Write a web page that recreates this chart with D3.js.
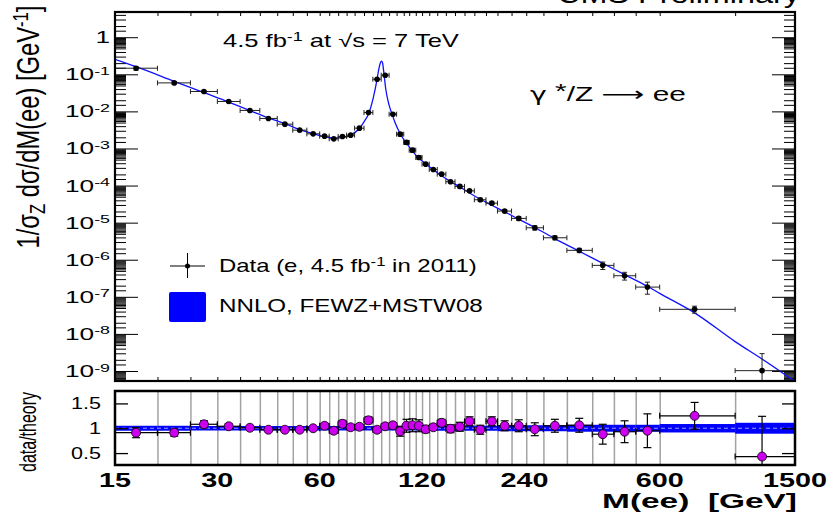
<!DOCTYPE html>
<html>
<head>
<meta charset="utf-8">
<script src="https://cdn.jsdelivr.net/npm/d3@7"></script>
<style>
  body { margin: 0; background: #fff; }
  svg { display: block; font-family: "Liberation Sans", Arial, Helvetica, sans-serif; }
</style>
</head>
<body>
<svg id="chart" width="829" height="516"></svg>
<script>
// Mass bin edges [GeV]
const binEdges = [15,20,25,30,35,40,45,50,55,60,64,68,72,76,81,86,91,96,101,106,110,115,120,126,133,141,150,160,171,185,200,220,243,273,320,380,440,510,600,1000,1500];
// Mass at which each measured point is placed [GeV]
const pointMass = [17.3,22.4,27.4,32.4,37.4,42.4,47.4,52.4,57.4,62,66,70,74,78.5,83.5,88.5,93.5,98.5,103.5,108,112.5,117.5,123,129.5,137,145.5,155,165.5,178,192.5,210,231,257.5,295,348,408,473,552,760,1200];
// Normalised cross section, 1/sigma_Z dsigma/dM [GeV^-1]
const dataValues = [0.146,0.0587,0.0344,0.0185,0.0106,0.00645,0.00453,0.00312,0.00248,0.00215,0.00182,0.00211,0.00229,0.00353,0.0093,0.0738,0.0946,0.0084,0.00243,0.00146,0.00090,0.000573,0.000378,0.000272,0.000203,0.000127,0.0000948,0.0000720,0.0000415,0.0000335,0.0000205,0.0000130,0.00000727,0.00000391,0.00000179,7.05e-7,3.7e-7,1.83e-7,4.6e-8,1.02e-9];
// Data / theory per bin and its uncertainty
const ratioValues = [0.91,0.91,1.08,1.04,1.01,0.97,0.97,0.97,1.00,1.05,0.95,1.09,1.02,1.03,1.16,0.97,1.04,1.06,0.94,1.05,1.06,1.05,0.98,1.02,1.11,0.99,1.03,1.14,0.97,1.14,1.05,1.05,0.98,1.05,1.06,0.88,0.93,0.95,1.25,0.43];
const ratioErrors = [0.10,0.07,0.07,0.05,0.03,0.03,0.03,0.03,0.03,0.04,0.05,0.07,0.04,0.04,0.07,0.02,0.03,0.05,0.10,0.13,0.13,0.12,0.07,0.06,0.07,0.08,0.09,0.09,0.09,0.09,0.10,0.12,0.13,0.13,0.14,0.20,0.22,0.34,0.27,0.81];
// Relative theory uncertainty per bin (NNLO band)
const theoryBand = [0.05,0.05,0.045,0.045,0.045,0.045,0.045,0.045,0.045,0.045,0.045,0.045,0.045,0.045,0.045,0.045,0.045,0.045,0.045,0.045,0.045,0.045,0.05,0.05,0.05,0.05,0.05,0.05,0.05,0.05,0.06,0.06,0.06,0.06,0.07,0.07,0.07,0.07,0.085,0.11];
// NNLO FEWZ+MSTW08 prediction
const theoryMass = [15,17.3,22.4,27.4,32.4,37.4,42.4,47.4,52.4,57.4,62,66,70,74,78.5,81,83.5,86.3,88.2,89.6,90.5,91.2,91.8,92.6,93.8,96,98,99.8,103.5,108,112.5,117.5,123,129.5,137,145.5,155,165.5,178,192.5,210,231,257.5,295,348,408,473,552,600,760,1000,1200,1500];
const theoryValues = [0.253,0.160,0.0645,0.0319,0.0178,0.0105,0.00665,0.00467,0.00322,0.00250,0.00208,0.00193,0.00196,0.00228,0.00345,0.0052,0.0085,0.0240,0.0625,0.143,0.205,0.228,0.205,0.116,0.0415,0.0147,0.0083,0.0052,0.0025,0.00139,0.00085,0.000546,0.000386,0.000267,0.000183,0.000128,0.000092,0.000063,0.0000428,0.0000294,0.0000195,0.0000124,0.0000074,0.00000372,0.00000169,8.0e-7,3.98e-7,1.93e-7,1.24e-7,3.7e-8,6.2e-9,2.1e-9,5.2e-10];
// Axis labels
const xTickLabels = [15,30,60,120,240,600,1500];
const yTickExponents = [0,-1,-2,-3,-4,-5,-6,-7,-8,-9];
const ratioTicks = [0.5,1,1.5];

const svg = d3.select("#chart");
const L = 115, R = 795;
const top1 = 12, bot1 = 381, top2 = 391, bot2 = 465;

const x = d3.scaleLog().domain([15, 1500]).range([L, R]);
const y = d3.scaleLog().domain([Math.pow(10, -9.27), Math.pow(10, 0.68)]).range([bot1, top1]);
const r = d3.scaleLinear().domain([0.26, 1.75]).range([bot2, top2]);

const defs = svg.append("defs");
defs.append("clipPath").attr("id", "clipUp").append("rect")
  .attr("x", L).attr("y", top1).attr("width", R - L).attr("height", bot1 - top1);
defs.append("clipPath").attr("id", "clipLo").append("rect")
  .attr("x", L).attr("y", top2).attr("width", R - L).attr("height", bot2 - top2);

// text helpers: stretch horizontally to a given width
function place(sel, px, py, anchor, width) {
  sel.attr("x", 0).attr("y", 0).attr("text-anchor", anchor);
  const len = sel.node().getComputedTextLength();
  const sx = width / len;
  sel.attr("transform", `translate(${px},${py}) scale(${sx},1)`);
  return sx;
}
function placeScaled(sel, px, py, anchor, sx) {
  sel.attr("x", 0).attr("y", 0).attr("text-anchor", anchor)
    .attr("transform", `translate(${px},${py}) scale(${sx},1)`);
}
function placeRot(sel, cx, cy, length, sx) {
  sel.attr("x", 0).attr("y", 0).attr("text-anchor", "middle");
  const f = parseFloat(sel.attr("font-size"));
  const len = sel.node().getComputedTextLength();
  sel.attr("font-size", f * length / len);
  sel.attr("transform", `translate(${cx},${cy}) scale(${sx},1) rotate(-90)`);
}

// ---------- upper panel ----------
const up = svg.append("g");

// minor/major ticks for the log y axis
const majors = [], minors = [];
for (let n = -10; n <= 1; n++) {
  majors.push(Math.pow(10, n));
  [1.5, 2, 3, 4, 5, 5.5, 6, 6.5, 7, 7.5, 8, 8.5, 9, 9.5].forEach(k => minors.push(k * Math.pow(10, n)));
}
const inY = v => v >= y.domain()[0] && v <= y.domain()[1];
const majorV = majors.filter(inY), minorV = minors.filter(inY);

function styleAxis(g, w) {
  g.select(".domain").remove();
  g.selectAll("line").attr("stroke", "#000").attr("stroke-width", w || 1);
  g.selectAll("text").remove();
}
up.append("g").attr("transform", `translate(${L},0)`)
  .call(d3.axisLeft(y).tickValues(majorV).tickSize(-23)).call(g => styleAxis(g));
up.append("g").attr("transform", `translate(${L},0)`)
  .call(d3.axisLeft(y).tickValues(minorV).tickSize(-11)).call(g => styleAxis(g));
up.append("g").attr("transform", `translate(${R},0)`)
  .call(d3.axisRight(y).tickValues(majorV).tickSize(-23)).call(g => styleAxis(g));
up.append("g").attr("transform", `translate(${R},0)`)
  .call(d3.axisRight(y).tickValues(minorV).tickSize(-11)).call(g => styleAxis(g));

const innerEdges = binEdges.slice(1, -1);
up.append("g").attr("transform", `translate(0,${top1})`)
  .call(d3.axisTop(x).tickValues(innerEdges).tickSize(-4)).call(g => styleAxis(g));
up.append("g").attr("transform", `translate(0,${bot1})`)
  .call(d3.axisBottom(x).tickValues(innerEdges).tickSize(-4)).call(g => styleAxis(g));

// theory curve
const theoryPts = theoryMass.map((m, i) => [m, theoryValues[i]]);
up.append("path")
  .attr("clip-path", "url(#clipUp)")
  .attr("d", d3.line().x(d => x(d[0])).y(d => y(d[1])).curve(d3.curveMonotoneX)(theoryPts))
  .attr("fill", "none").attr("stroke", "#1010ff").attr("stroke-width", 1.3);

// data points with error bars
const dataG = up.append("g").attr("clip-path", "url(#clipUp)");
dataValues.forEach((d, i) => {
  const x0 = x(binEdges[i]), x1 = x(binEdges[i + 1]);
  const cx = x(pointMass[i]), cy = y(d);
  const rel = ratioErrors[i] / ratioValues[i];
  const yHi = y(d * (1 + rel));
  const yLo = d * (1 - rel) > 0 ? y(d * (1 - rel)) : bot1 + 20;
  const g = dataG.append("g").attr("stroke", "#222").attr("stroke-width", 1);
  g.append("line").attr("x1", x0).attr("x2", x1).attr("y1", cy).attr("y2", cy);
  g.append("line").attr("x1", x0).attr("x2", x0).attr("y1", cy - 2.5).attr("y2", cy + 2.5);
  g.append("line").attr("x1", x1).attr("x2", x1).attr("y1", cy - 2.5).attr("y2", cy + 2.5);
  g.append("line").attr("x1", cx).attr("x2", cx).attr("y1", yHi).attr("y2", yLo);
  g.append("line").attr("x1", cx - 2.5).attr("x2", cx + 2.5).attr("y1", yHi).attr("y2", yHi);
  g.append("line").attr("x1", cx - 2.5).attr("x2", cx + 2.5).attr("y1", yLo).attr("y2", yLo);
  dataG.append("circle").attr("cx", cx).attr("cy", cy).attr("r", 2.8).attr("fill", "#000");
});

up.append("rect").attr("x", L).attr("y", top1).attr("width", R - L).attr("height", bot1 - top1)
  .attr("fill", "none").attr("stroke", "#000").attr("stroke-width", 2.2);

// y tick labels (10^n)
const yLab = up.append("g").attr("font-size", 16);
yTickExponents.forEach(e => {
  const t = yLab.append("text").attr("data-e", e);
  if (e === 0) {
    t.text("1");
  } else {
    t.append("tspan").text("10");
    t.append("tspan").attr("font-size", "0.68em").attr("dy", "-0.5em").text(String(e));
  }
});
let ySx;
{
  const ref = yLab.selectAll("text").filter(function () { return this.getAttribute("data-e") === "-1"; });
  ref.attr("x", 0).attr("y", 0);
  ySx = 45 / ref.node().getComputedTextLength();
}
yLab.selectAll("text").each(function () {
  const e = +this.getAttribute("data-e");
  placeScaled(d3.select(this), 110, y(Math.pow(10, e)) + 6, "end", ySx);
});

// y axis title
const yTitle = svg.append("text").attr("font-size", 22).attr("fill", "#000");
yTitle.append("tspan").text("1/σ");
yTitle.append("tspan").attr("font-size", "0.7em").attr("dy", "0.3em").text("Z");
yTitle.append("tspan").attr("dy", "-0.21em").text(" dσ/dM(ee) [GeV");
yTitle.append("tspan").attr("font-size", "0.7em").attr("dy", "-0.5em").text("-1");
yTitle.append("tspan").attr("dy", "0.35em").text("]");
placeRot(yTitle, 39, 127, 243, 1.3);

// annotations
const cms = svg.append("text").attr("font-size", 26).text("CMS Preliminary");
place(cms, 800, 3, "end", 243);

const lumi = svg.append("text").attr("font-size", 18);
lumi.append("tspan").text("4.5 fb");
lumi.append("tspan").attr("font-size", "0.7em").attr("dy", "-0.5em").text("-1");
lumi.append("tspan").attr("dy", "0.35em").text(" at √s = 7 TeV");
place(lumi, 223, 47, "start", 236);

const proc = svg.append("text").attr("font-size", 20);
proc.append("tspan").attr("font-family", "'DejaVu Sans', sans-serif").attr("font-size", "0.95em").text("γ");
proc.append("tspan").attr("dy", "-0.15em").text(" *");
proc.append("tspan").attr("dy", "0.15em").text("/Z ");
proc.append("tspan").attr("font-family", "'DejaVu Sans', sans-serif").text("⟶");
proc.append("tspan").text(" ee");
place(proc, 530, 101, "start", 156);

// legend
const leg = svg.append("g");
leg.append("line").attr("x1", 170).attr("x2", 205).attr("y1", 266).attr("y2", 266).attr("stroke", "#000");
leg.append("line").attr("x1", 187.5).attr("x2", 187.5).attr("y1", 253).attr("y2", 278).attr("stroke", "#000");
leg.append("circle").attr("cx", 187.5).attr("cy", 266).attr("r", 2.5).attr("fill", "#000");
leg.append("rect").attr("x", 169).attr("y", 292).attr("width", 37).attr("height", 30).attr("rx", 2).attr("fill", "#0000ff");
const l1 = leg.append("text").attr("font-size", 18);
l1.append("tspan").text("Data (e, 4.5 fb");
l1.append("tspan").attr("font-size", "0.7em").attr("dy", "-0.5em").text("-1");
l1.append("tspan").attr("dy", "0.35em").text(" in 2011)");
place(l1, 219, 272, "start", 258);
const l2 = leg.append("text").attr("font-size", 18).text("NNLO, FEWZ+MSTW08");
place(l2, 219, 312, "start", 264);

// ---------- ratio panel ----------
const lo = svg.append("g");

// vertical bin-edge grid
lo.append("g").attr("transform", `translate(0,${bot2})`)
  .call(d3.axisBottom(x).tickValues(innerEdges).tickSize(-(bot2 - top2)))
  .call(g => { styleAxis(g, 1.5); g.selectAll("line").attr("stroke", "#a3a3a3"); });

// theory band per bin
const bandG = lo.append("g").attr("clip-path", "url(#clipLo)");
theoryBand.forEach((e, i) => {
  bandG.append("rect")
    .attr("x", x(binEdges[i])).attr("width", x(binEdges[i + 1]) - x(binEdges[i]))
    .attr("y", r(1 + e)).attr("height", r(1 - e) - r(1 + e))
    .attr("fill", "#0000ff");
});
lo.append("line").attr("x1", L).attr("x2", R).attr("y1", r(1)).attr("y2", r(1))
  .attr("stroke", "#9a9aff").attr("stroke-width", 1).attr("stroke-dasharray", "4,3");

// ratio points
const ratG = lo.append("g").attr("clip-path", "url(#clipLo)");
ratioValues.forEach((v, i) => {
  const x0 = x(binEdges[i]), x1 = x(binEdges[i + 1]);
  const cx = x(pointMass[i]), cy = r(v);
  const e = ratioErrors[i];
  const yHi = r(v + e), yLo = r(v - e);
  const g = ratG.append("g").attr("stroke", "#000").attr("stroke-width", 1.2);
  g.append("line").attr("x1", x0).attr("x2", x1).attr("y1", cy).attr("y2", cy);
  g.append("line").attr("x1", x0).attr("x2", x0).attr("y1", cy - 3).attr("y2", cy + 3);
  g.append("line").attr("x1", x1).attr("x2", x1).attr("y1", cy - 3).attr("y2", cy + 3);
  g.append("line").attr("x1", cx).attr("x2", cx).attr("y1", yHi).attr("y2", yLo);
  g.append("line").attr("x1", cx - 4).attr("x2", cx + 4).attr("y1", yHi).attr("y2", yHi);
  g.append("line").attr("x1", cx - 4).attr("x2", cx + 4).attr("y1", yLo).attr("y2", yLo);
  ratG.append("circle").attr("cx", cx).attr("cy", cy).attr("r", 4.5)
    .attr("fill", "#cc00ee").attr("stroke", "#000").attr("stroke-width", 0.8);
});

lo.append("g").attr("transform", `translate(${L},0)`)
  .call(d3.axisLeft(r).tickValues(ratioTicks).tickSize(-13)).call(g => styleAxis(g, 1.3));
lo.append("g").attr("transform", `translate(${R},0)`)
  .call(d3.axisRight(r).tickValues(ratioTicks).tickSize(-13)).call(g => styleAxis(g, 1.3));

lo.append("rect").attr("x", L).attr("y", top2).attr("width", R - L).attr("height", bot2 - top2)
  .attr("fill", "none").attr("stroke", "#000").attr("stroke-width", 2.5);

// ratio tick labels
const rLab = lo.append("g").attr("font-size", 17);
const rRef = rLab.append("text").text("1.5");
rRef.attr("x", 0).attr("y", 0);
const rSx = 30 / rRef.node().getComputedTextLength();
rRef.remove();
ratioTicks.forEach(v => {
  const t = rLab.append("text").text(String(v));
  placeScaled(t, 101, r(v) + 6, "end", rSx);
});

const rTitle = svg.append("text").attr("font-size", 16).text("data/theory");
placeRot(rTitle, 36, 432, 80, 1.55);

// x tick labels
const xLab = svg.append("g").attr("font-size", 20).attr("font-weight", "bold");
const xRef = xLab.append("text").text("1500");
xRef.attr("x", 0).attr("y", 0);
const xSx = 64 / xRef.node().getComputedTextLength();
xRef.remove();
xTickLabels.forEach(v => {
  const t = xLab.append("text").text(String(v));
  placeScaled(t, x(v), 487, "middle", xSx);
});

const xTitle = svg.append("text").attr("font-size", 20).attr("font-weight", "bold")
  .style("white-space", "pre").text("M(ee)  [GeV]");
place(xTitle, 797, 508, "end", 195);
</script>
</body>
</html>
